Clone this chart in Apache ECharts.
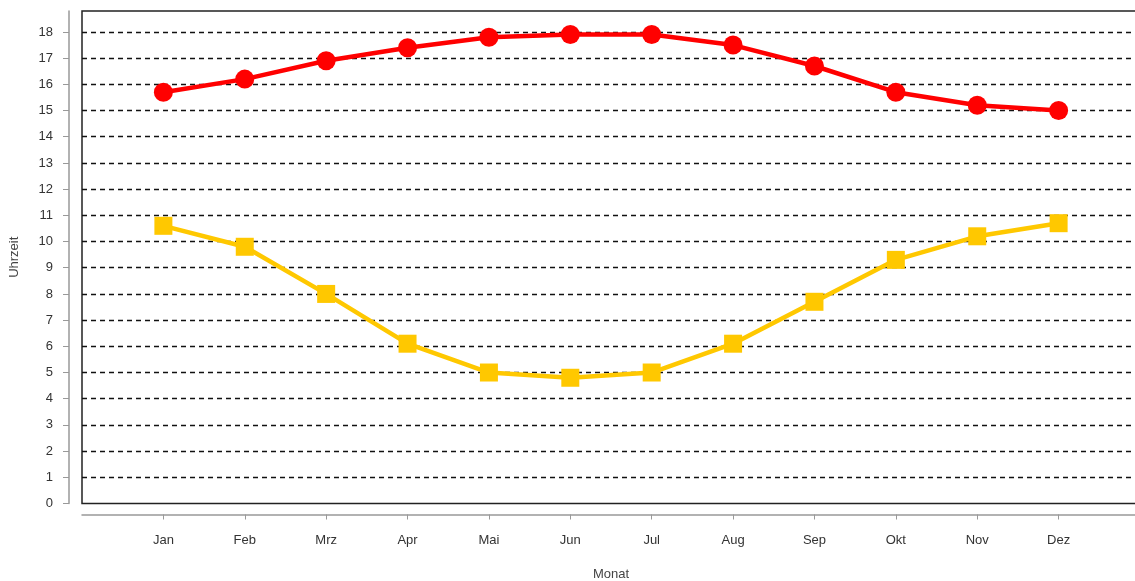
<!DOCTYPE html>
<html>
<head>
<meta charset="utf-8">
<script src="https://cdn.jsdelivr.net/npm/echarts@6/dist/echarts.min.js"></script>
<style>
  html, body { margin: 0; padding: 0; background: #fff; }
  #chart { width: 1135px; height: 581px; }
</style>
</head>
<body>
<div id="chart"></div>
<script>
const months = ['Jan', 'Feb', 'Mrz', 'Apr', 'Mai', 'Jun', 'Jul', 'Aug', 'Sep', 'Okt', 'Nov', 'Dez'];
// sunset (red) and sunrise (yellow) times in hours
const sunset = [15.7, 16.2, 16.9, 17.4, 17.8, 17.9, 17.9, 17.5, 16.7, 15.7, 15.2, 15.0];
const sunrise = [10.6, 9.8, 8.0, 6.1, 5.0, 4.8, 5.0, 6.1, 7.7, 9.3, 10.2, 10.7];
const yTicks = [0, 1, 2, 3, 4, 5, 6, 7, 8, 9, 10, 11, 12, 13, 14, 15, 16, 17, 18];

// one empty slot on each side, like the original's padded axis
const cats = [''].concat(months, ['']);
const pad = arr => [null].concat(arr, [null]);
const notEmpty = (i, v) => v !== '';

const font = 'Liberation Sans, Arial, sans-serif';
const chart = echarts.init(document.getElementById('chart'));

chart.setOption({
    animation: false,
    backgroundColor: '#fff',
    grid: {
        left: 82, top: 11, width: 1058, height: 492.5,
        outerBoundsMode: 'none',
        containLabel: false,
        show: true, borderColor: '#222', borderWidth: 1.5
    },
    xAxis: {
        type: 'category',
        data: cats,
        boundaryGap: false,
        offset: 11,
        name: 'Monat',
        nameLocation: 'middle',
        nameGap: 53,
        nameTextStyle: { color: '#444', fontSize: 13, fontFamily: font },
        axisLine: { onZero: false, lineStyle: { color: '#999', width: 1.5 } },
        axisTick: { interval: notEmpty, length: 5, lineStyle: { color: '#999' } },
        axisLabel: { interval: notEmpty, margin: 19, color: '#333', fontSize: 13, fontFamily: font },
        splitLine: { show: false }
    },
    yAxis: {
        type: 'value',
        min: 0,
        max: 18.8,
        interval: 1,
        offset: 13,
        name: 'Uhrzeit',
        nameLocation: 'middle',
        nameGap: 48,
        nameTextStyle: { color: '#444', fontSize: 13, fontFamily: font },
        axisLine: { show: true, onZero: false, lineStyle: { color: '#999', width: 1.5 } },
        axisTick: { show: true, length: 6, customValues: yTicks, lineStyle: { color: '#999' } },
        axisLabel: { customValues: yTicks, margin: 16, color: '#333', fontSize: 13, fontFamily: font },
        splitLine: {
            show: true,
            showMinLine: false,
            lineStyle: { color: '#111', type: [5, 4], width: 1.3 }
        }
    },
    series: [
        {
            name: 'Sonnenuntergang',
            type: 'line',
            data: pad(sunset),
            symbol: 'circle',
            symbolSize: 19,
            lineStyle: { color: '#ff0000', width: 4.5 },
            itemStyle: { color: '#ff0000' }
        },
        {
            name: 'Sonnenaufgang',
            type: 'line',
            data: pad(sunrise),
            symbol: 'rect',
            symbolSize: 18,
            lineStyle: { color: '#ffc800', width: 4.5 },
            itemStyle: { color: '#ffc800' }
        }
    ]
});
</script>
</body>
</html>
